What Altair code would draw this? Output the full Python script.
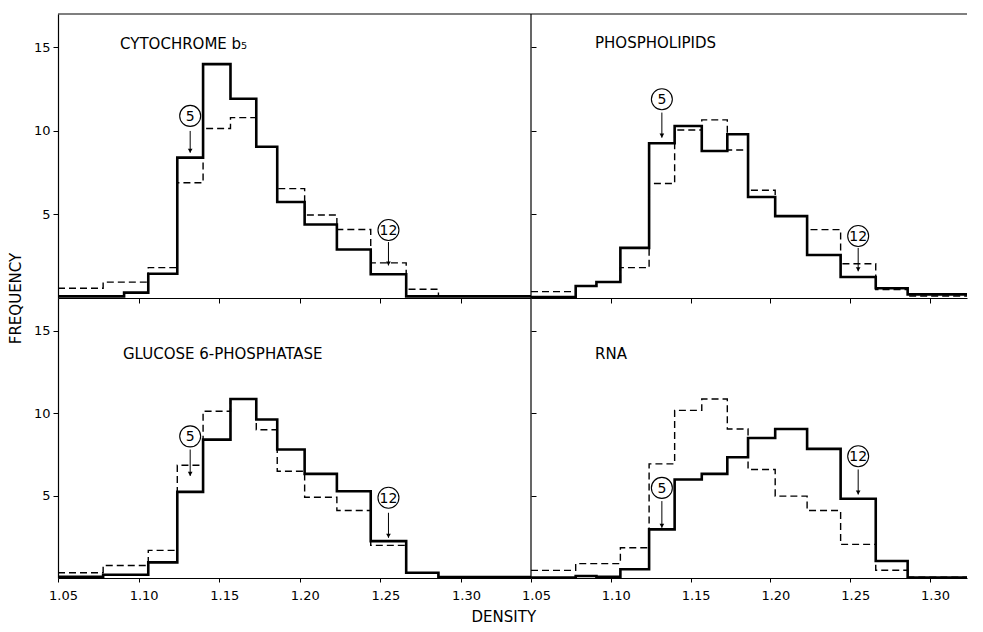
import altair as alt
import pandas as pd

FONT = "DejaVu Sans"

# bin edges (density) of the gradient fractions
EDGES = [1.05, 1.078, 1.091, 1.106, 1.124, 1.140, 1.157, 1.173, 1.186,
         1.203, 1.223, 1.244, 1.266, 1.286, 1.31, 1.35]
FRACTION_NAMES = ["5", "12"]
FRACTION_BINS = [4, 11]

TITLES = ["CYTOCHROME b\u2085", "PHOSPHOLIPIDS", "GLUCOSE 6-PHOSPHATASE", "RNA"]

# frequency per bin (solid = component, dashed = protein reference)
CYTO_SOLID = [0.1, 0.1, 0.32, 1.45, 8.4, 14.0, 11.93, 9.05, 5.75, 4.4, 2.9, 1.42, 0.1, 0.1, 0.1]
CYTO_DASHED = [0.58, 0.95, 0.95, 1.82, 6.9, 10.15, 10.8, 9.05, 6.55, 4.97, 4.1, 2.1, 0.52, 0.12, 0.1]

PHOS_SOLID = [0.05, 0.72, 0.96, 3.0, 9.26, 10.3, 8.8, 9.8, 6.05, 4.9, 2.57, 1.26, 0.58, 0.22, 0.22]
PHOS_DASHED = [0.38, 0.72, 0.96, 1.82, 6.85, 10.06, 10.66, 8.86, 6.45, 4.9, 4.09, 2.05, 0.5, 0.12, 0.12]

GLUC_SOLID = [0.08, 0.2, 0.2, 0.95, 5.23, 8.4, 10.87, 9.62, 7.8, 6.32, 5.27, 2.24, 0.32, 0.06, 0.06]
GLUC_DASHED = [0.32, 0.76, 0.76, 1.68, 6.85, 10.12, 10.87, 9.0, 6.48, 4.9, 4.1, 1.98, 0.3, 0.06, 0.06]

RNA_SOLID = [0.03, 0.12, 0.08, 0.53, 2.95, 5.98, 6.32, 7.33, 8.5, 9.05, 7.84, 4.81, 1.03, 0.03, 0.03]
RNA_DASHED = [0.46, 0.87, 0.87, 1.84, 6.93, 10.18, 10.87, 9.05, 6.59, 4.97, 4.1, 2.04, 0.47, 0.05, 0.05]

# annotation placement (circle centre, arrow start, arrow tip) in frequency units
ANNOT = {
    0: dict(circle=[10.9, 4.07], top=[10.0, 3.35], tip=[8.7, 1.95]),
    1: dict(circle=[11.9, 3.71], top=[11.1, 3.0], tip=[9.6, 1.6]),
    2: dict(circle=[8.6, 4.87], top=[7.8, 3.96], tip=[6.2, 2.44]),
    3: dict(circle=[5.47, 7.39], top=[4.67, 6.59], tip=[3.05, 5.07]),
}
LABEL_POS = {0: (1.0885, 15.2), 1: (1.0901, 15.27), 2: (1.0903, 13.6), 3: (1.0901, 13.6)}


def steps(vals):
    return pd.DataFrame({"density": EDGES, "freq": vals + [vals[-1]]})


def panel(idx, solid, dashed, is_left, is_bottom, width, height, xmax):
    x_scale = alt.Scale(domain=[1.05, xmax], nice=False, zero=False)
    y_scale = alt.Scale(domain=[0, 17], nice=False)
    if is_bottom:
        x_axis = alt.Axis(values=[1.05, 1.10, 1.15, 1.20, 1.25, 1.30], format=".2f",
                          title=None, grid=False, tickSize=4, labelPadding=7,
                          labelFlush=False, labelOffset=5)
    else:
        x_axis = alt.Axis(values=[1.10, 1.15, 1.20, 1.25, 1.30], labels=False,
                          title=None, grid=False, tickSize=5)
    if is_left and idx == 0:
        y_axis = alt.Axis(values=[5, 10, 15], title="FREQUENCY", grid=False, tickSize=5,
                          labelPadding=3, titleFont=FONT, titleFontSize=15,
                          titleFontWeight="normal", titleColor="black",
                          titleX=-43, titleY=height, titleAngle=270,
                          titleAlign="center", titleBaseline="middle")
    elif is_left:
        y_axis = alt.Axis(values=[5, 10, 15], title=None, grid=False, tickSize=5,
                          labelPadding=3)
    else:
        y_axis = alt.Axis(values=[5, 10, 15], labels=False, title=None, grid=False,
                          tickSize=5, offset=-5, domain=False)

    dashed_line = alt.Chart(steps(dashed)).mark_line(
        interpolate="step-after", color="black", strokeWidth=1.4,
        strokeDash=[7, 4], clip=True
    ).encode(x=alt.X("density:Q", scale=x_scale, axis=x_axis),
             y=alt.Y("freq:Q", scale=y_scale, axis=y_axis))
    solid_line = alt.Chart(steps(solid)).mark_line(
        interpolate="step-after", color="black", strokeWidth=2.6, clip=True
    ).encode(x="density:Q", y="freq:Q")

    lx, ly = LABEL_POS[idx]
    lab = alt.Chart(pd.DataFrame({"t": [TITLES[idx]], "density": [lx], "freq": [ly]})).mark_text(
        align="left", baseline="middle", font=FONT, fontSize=15, color="black"
    ).encode(x="density:Q", y="freq:Q", text="t:N")

    a = ANNOT[idx]
    centers = [(EDGES[b] + EDGES[b + 1]) / 2 for b in FRACTION_BINS]
    adf = pd.DataFrame({"name": FRACTION_NAMES, "density": centers,
                        "yc": a["circle"], "ytop": a["top"], "ytip": a["tip"]})
    circ = alt.Chart(adf).mark_point(shape="circle", size=440, filled=False,
                                     stroke="black", strokeWidth=1.1, opacity=1).encode(
        x="density:Q", y=alt.Y("yc:Q"))
    num = alt.Chart(adf).mark_text(font=FONT, fontSize=14, color="black",
                                   baseline="middle", dy=1).encode(
        x="density:Q", y="yc:Q", text="name:N")
    arrow = alt.Chart(adf).mark_rule(color="black", strokeWidth=1).encode(
        x="density:Q", y="ytop:Q", y2="ytip:Q")
    head = alt.Chart(adf).mark_point(shape="triangle-down", size=22, filled=True,
                                     color="black", opacity=1, yOffset=-2).encode(
        x="density:Q", y="ytip:Q")

    layers = [dashed_line, solid_line, lab, circ, num, arrow, head]
    if not is_left:
        layers.append(alt.Chart().mark_rule(color="black", strokeWidth=1.2).encode(
            x=alt.datum(1.05)))
    if not is_bottom:
        layers.append(alt.Chart().mark_rule(color="black", strokeWidth=1.2).encode(
            y=alt.datum(17)))
    return alt.layer(*layers).properties(width=width, height=height)


LW, RW = 473, 436
LMAX = 1.05 + LW / 1612
RMAX = 1.05 + RW / 1596
TH, BH = 284, 280

p1 = panel(0, CYTO_SOLID, CYTO_DASHED, True, False, LW, TH, LMAX)
p2 = panel(1, PHOS_SOLID, PHOS_DASHED, False, False, RW, TH, RMAX)
p3 = panel(2, GLUC_SOLID, GLUC_DASHED, True, True, LW, BH, LMAX)
p4 = panel(3, RNA_SOLID, RNA_DASHED, False, True, RW, BH, RMAX)

chart = alt.concat(
    p1, p2, p3, p4, columns=2, spacing=0, bounds="flush",
    title=alt.Title("DENSITY", orient="bottom", font=FONT, fontSize=15,
                    fontWeight="normal", offset=8, anchor="middle", color="black",
                    dx=16),
).properties(
    padding={"left": 0, "top": 5, "right": 5, "bottom": 0},
    background="white",
).configure_view(stroke=None).configure_axis(
    domainColor="black", tickColor="black", labelColor="black", domainWidth=1.2,
    tickWidth=1, labelFont=FONT, labelFontSize=13
)

chart.save("out.html", embed_options={"renderer": "svg", "actions": False})
